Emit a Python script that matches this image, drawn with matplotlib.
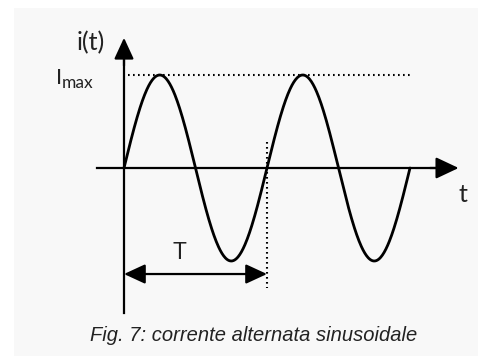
import numpy as np
import matplotlib.pyplot as plt
from matplotlib.patches import Rectangle

# Curve parameters (period T = 1, peak value Imax = 1)
period = 1.0
i_max = 1.0
n_periods = 2

# Axis extents in data units
t_axis = [-0.19, 2.34]
i_axis = [-1.56, 1.40]

# Helper lines
imax_line_t = [0.03, 2.02]
period_line_i = [0.28, -1.29]
period_arrow_i = -1.14

caption = 'Fig. 7: corrente alternata sinusoidale'

t = np.linspace(0, n_periods * period, 500)
i = i_max * np.sin(2 * np.pi * t / period)

fig = plt.figure(figsize=(4.78, 3.56), dpi=100)
ax = fig.add_axes([0, 0, 1, 1])
ax.set_facecolor('white')
ax.set_xlim(-124 / 143, 354 / 143)
ax.set_ylim(-188 / 93, 168 / 93)
ax.axis('off')
ax.add_patch(Rectangle((14 / 478, 0), 1, 1 - 8 / 356, transform=ax.transAxes,
                       facecolor='#f8f8f8', edgecolor='none', zorder=-10))

# sine curve
ax.plot(t, i, color='black', lw=2.0, solid_capstyle='round')

# axes with arrowheads
ax.plot([t_axis[0], t_axis[1] - 0.05], [0, 0], color='black', lw=1.6)
ax.annotate('', xy=(t_axis[1], 0), xytext=(t_axis[1] - 0.2, 0),
            arrowprops=dict(arrowstyle='-|>,head_length=0.7,head_width=0.33',
                            mutation_scale=20, color='black', lw=1.6, shrinkA=0, shrinkB=0))
ax.plot([0, 0], [i_axis[0], i_axis[1] - 0.08], color='black', lw=1.6)
ax.annotate('', xy=(0, i_axis[1]), xytext=(0, i_axis[1] - 0.3),
            arrowprops=dict(arrowstyle='-|>,head_length=0.65,head_width=0.3',
                            mutation_scale=20, color='black', lw=1.6, shrinkA=0, shrinkB=0))

# dotted guides
ax.plot(imax_line_t, [i_max, i_max], color='black', lw=1.5, ls=(0, (0.8, 1.6)))
ax.plot([period, period], period_line_i, color='black', lw=1.5, ls=(0, (0.8, 1.6)))

# period arrow
ax.annotate('', xy=(period, period_arrow_i), xytext=(0, period_arrow_i),
            arrowprops=dict(arrowstyle='<|-|>,head_length=0.65,head_width=0.3',
                            mutation_scale=20, color='black', lw=1.6, shrinkA=0, shrinkB=0))

# labels
ax.text(-0.235, 1.35, 'i(t)', fontsize=18, family='Lato', color='#222222',
        ha='center', va='center')
ax.text(-0.476, 0.90, 'I', fontsize=15.5, family='Lato', color='#222222',
        ha='left', va='baseline')
ax.text(-0.437, 0.855, 'max', fontsize=12.5, family='Lato', color='#222222',
        ha='left', va='baseline')
ax.text(2.37, -0.29, 't', fontsize=18, family='Lato', color='#222222',
        ha='center', va='center')
ax.text(0.385, -0.91, 'T', fontsize=16.5, family='Liberation Sans', color='#222222',
        ha='center', va='center')
ax.text(0.909, -1.80, caption, fontsize=14.5, family='Liberation Sans', style='italic',
        color='#222222', ha='center', va='center')

fig.savefig('out.png', dpi=100)
